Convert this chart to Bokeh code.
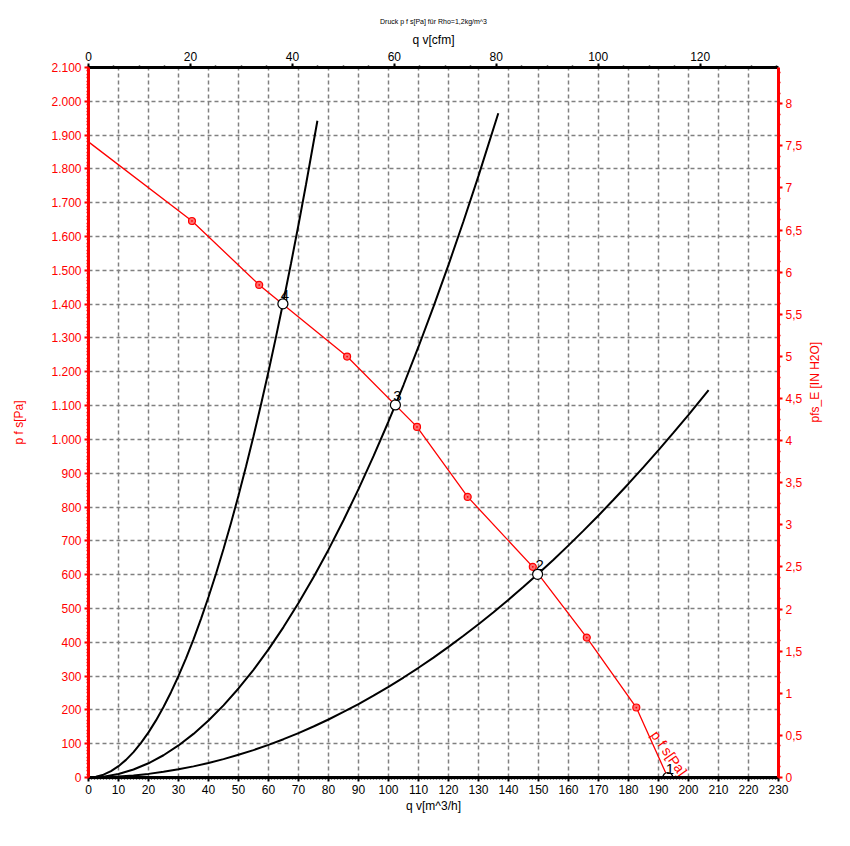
from bokeh.plotting import figure
from bokeh.models import Range1d, LinearAxis, SingleIntervalTicker, CustomJSTickFormatter
from bokeh.core.properties import value
from bokeh.embed import file_html
from bokeh.resources import INLINE
import math

# ---------------- data ----------------
# fan curve p_fs [Pa] vs qv [m^3/h]
fan_q = [0, 34.5, 56.9, 86.2, 109.5, 126.4, 148.1, 166.1, 182.6, 193.1]
fan_p = [1880, 1646, 1457, 1245, 1037, 830, 623, 414, 207, 0]
# measured markers on the fan curve
mark_q = [34.5, 56.9, 86.2, 109.5, 126.4, 148.1, 166.1, 182.6]
mark_p = [1646, 1457, 1245, 1037, 830, 623, 414, 207]

# system curves (black)
sys4_q = [0, 2.5, 5, 7.5, 10, 12.5, 15, 17.5, 20, 22.5, 25, 27.5, 30, 32.5, 35, 37.5,
          40, 42.5, 45, 47.5, 50, 52.5, 55, 57.5, 60, 62.5, 64.8, 67.5, 70, 72.5, 76.3]
sys4_p = [0, 2.1, 8.3, 18.8, 33.4, 52.1, 75.1, 102.2, 133.5, 168.9, 208.5, 252.3, 300.3,
          352.4, 408.7, 469.2, 533.8, 602.6, 675.6, 752.8, 834.1, 919.6, 1009.3, 1103.1,
          1201.1, 1303.3, 1401, 1520.2, 1634.9, 1753.8, 1942.4]
sys3_q = [0, 5, 10, 15, 20, 25, 30, 35, 40, 45, 50, 55, 60, 65, 70, 75, 80, 85, 90, 95,
          100, 102.3, 105, 110, 115, 120, 125, 130, 136.6]
sys3_p = [0, 2.6, 10.5, 23.7, 42.1, 65.8, 94.8, 129.0, 168.5, 213.2, 263.3, 318.5, 379.1,
          444.9, 516.0, 592.3, 673.9, 760.8, 853.0, 950.3, 1053, 1102, 1160.9, 1274.1,
          1392.6, 1516.3, 1645.3, 1779.6, 1964.9]
sys2_q = [0, 5, 10, 15, 20, 25, 30, 35, 40, 45, 50, 55, 60, 65, 70, 75, 80, 85, 90, 95,
          100, 105, 110, 115, 120, 125, 130, 135, 140, 145, 149.7, 155, 160, 165, 170,
          175, 180, 185, 190, 195, 200, 206.7]
sys2_p = [0, 0.7, 2.7, 6.0, 10.7, 16.8, 24.1, 32.9, 42.9, 54.3, 67.1, 81.1, 96.6, 113.3,
          131.4, 150.9, 171.6, 193.8, 217.2, 242.1, 268.2, 295.7, 324.5, 354.7, 386.2,
          419.1, 453.3, 488.8, 525.7, 563.9, 601, 644.3, 686.6, 730.2, 775.1, 821.4,
          869.0, 917.9, 968.2, 1019.8, 1072.8, 1145.9]

# operating points
op_q = [193.1, 149.7, 102.3, 64.8]
op_p = [0, 601, 1102, 1401]
op_labels = ["1", "2", "3", "4"]

# axes
Q_MAX = 230
P_MAX = 2100
M3H_PER_CFM = 1.699
PA_PER_INH2O = 249.09

RED = "#ff0000"
FONT = "Liberation Sans"

p = figure(frame_width=690, frame_height=710,
           x_range=Range1d(0, Q_MAX), y_range=Range1d(0, P_MAX),
           output_backend="svg", toolbar_location=None,
           min_border_left=88, min_border_right=52,
           min_border_top=67, min_border_bottom=50,
           background_fill_color="white", border_fill_color="white")
p.outline_line_color = None

p.title.text = "Druck p f s[Pa] für Rho=1,2kg/m^3"
p.title.align = "center"
p.title.text_font_size = "7px"
p.title.text_font_style = "normal"
p.title.text_font = FONT
p.title.text_color = "black"

p.extra_x_ranges = {"cfm": Range1d(0, Q_MAX / M3H_PER_CFM)}
p.extra_y_ranges = {"inh2o": Range1d(0, P_MAX / PA_PER_INH2O)}

# bottom axis
bx = p.below[0]
bx.ticker = SingleIntervalTicker(interval=10, num_minor_ticks=10)
bx.axis_label = "q v[m^3/h]"
# left axis
ly = p.left[0]
ly.ticker = SingleIntervalTicker(interval=100, num_minor_ticks=10)
ly.formatter = CustomJSTickFormatter(code="""
const t = Math.round(tick);
if (t >= 1000) { const r = t % 1000; return Math.floor(t/1000) + '.' + String(r).padStart(3,'0'); }
return String(t);
""")
ly.axis_label = "p f s[Pa]"

tx = LinearAxis(x_range_name="cfm",
                ticker=SingleIntervalTicker(interval=20, num_minor_ticks=4),
                axis_label="q v[cfm]")
p.add_layout(tx, "above")
ry = LinearAxis(y_range_name="inh2o",
                ticker=SingleIntervalTicker(interval=0.5, num_minor_ticks=4),
                formatter=CustomJSTickFormatter(code="return String(Math.round(tick*100)/100).replace('.', ',');"),
                axis_label="pfs_E [IN H2O]")
p.add_layout(ry, "right")

for ax, col in ((bx, "black"), (tx, "black"), (ly, RED), (ry, RED)):
    ax.axis_line_color = col
    ax.axis_line_width = 3
    ax.major_tick_line_color = col
    ax.minor_tick_line_color = col
    ax.major_tick_line_width = 2
    ax.minor_tick_line_width = 1.5
    ax.major_tick_out = 4
    ax.major_tick_in = 0
    ax.minor_tick_out = 2
    ax.minor_tick_in = 0
    ax.major_label_text_color = col
    ax.major_label_text_font = FONT
    ax.major_label_text_font_size = "12px"
    ax.major_label_standoff = 3
    ax.axis_label_text_color = col
    ax.axis_label_text_font = FONT
    ax.axis_label_text_font_size = "12px"
    ax.axis_label_text_font_style = "normal"

ly.axis_label_standoff = 22
ry.axis_label_standoff = 10
ry.axis_label_orientation = math.pi / 2
bx.axis_label_standoff = 2
tx.axis_label_standoff = 2

# grid
p.xgrid.ticker = bx.ticker
p.ygrid.ticker = ly.ticker
for g in (p.xgrid, p.ygrid):
    g.grid_line_color = "#808080"
    g.grid_line_width = 1.5
    g.grid_line_dash = "4 3"

# system curves
p.line(sys4_q, sys4_p, line_color="black", line_width=2)
p.line(sys3_q, sys3_p, line_color="black", line_width=2)
p.line(sys2_q, sys2_p, line_color="black", line_width=2)

# fan curve
p.line(fan_q, fan_p, line_color=RED, line_width=1.3)
p.scatter(mark_q, mark_p, marker="circle_dot", size=7, fill_color="#ff7070",
          line_color=RED, line_width=1.2)
p.text(x=[188.6], y=[134], text=["p f s[Pa]"], angle=-0.96,
       text_color=RED, text_font=value(FONT), text_font_size="14px",
       text_align="left", text_baseline="alphabetic")

# operating points
p.scatter(op_q, op_p, marker="circle", size=10, fill_color="white",
          line_color="black", line_width=1.2)
p.text(x=op_q, y=op_p, text=op_labels, text_align="center", text_baseline="bottom",
       x_offset=2, y_offset=-4, text_font=value(FONT), text_font_size="15px",
       text_color="black")

open("out.html", "w").write(file_html(p, INLINE))
